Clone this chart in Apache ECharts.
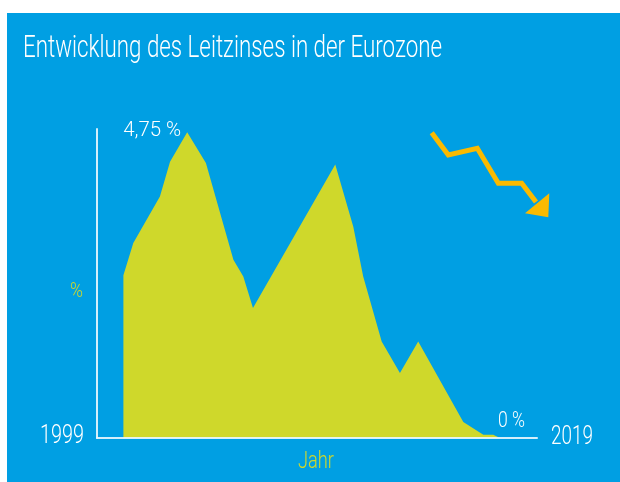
<!DOCTYPE html>
<html>
<head>
<meta charset="utf-8">
<script src="https://cdn.jsdelivr.net/npm/echarts@6/dist/echarts.min.js"></script>
<style>
html,body{margin:0;padding:0;background:#fff;}
#c{width:620px;height:482px;}
</style>
</head>
<body>
<div id="c"></div>
<script>
const titleText = 'Entwicklung des Leitzinses in der Eurozone';
const years = [2000.2, 2000.65, 2001.86, 2002.32, 2003.1, 2003.95, 2005.2, 2005.65, 2006.09, 2009.83, 2010.65, 2011.1, 2011.94, 2012.77, 2013.6, 2015.65, 2016.56, 2017.01, 2017.32];
const rates = [2.53, 3.03, 3.75, 4.29, 4.75, 4.27, 2.77, 2.51, 2.02, 4.25, 3.28, 2.51, 1.5, 1.01, 1.5, 0.25, 0.05, 0.05, 0];
const endLabels = ['1999', '2019'];
const xRange = [1999, 2019];
const peakLabel = '4,75 %';
const zeroLabel = '0 %';
const yName = '%';
const xName = 'Jahr';

const FONT_NAME = 'Roboto';
const WEIGHT = '300';
const BLUE = '#009FE3';
const GREEN = '#CFD82B';
const ORANGE = '#FBBA00';
const AXIS = 'rgba(235,247,253,0.9)';

const ctx = document.createElement('canvas').getContext('2d');
function fontStr(size) { return WEIGHT + ' ' + size + 'px ' + FONT_NAME; }
function measure(text, size) {
  ctx.font = fontStr(size);
  return ctx.measureText(text).width;
}
// text with given left (or right) edge, cap top, font size, target width
function ntext(text, x, capTop, size, targetW, color, align) {
  const w = measure(text, size);
  const s = targetW / w;
  const top = capTop - size * 0.27 + 4;
  return {
    type: 'text', z: 20,
    x: align === 'right' ? x - targetW : x,
    y: top,
    scaleX: s,
    style: { x: 0, y: 0, text: text, fill: color, font: fontStr(size), verticalAlign: 'top', align: 'left' }
  };
}

const data = years.map((x, i) => [x, rates[i]]);

const chart = echarts.init(document.getElementById('c'), null, { renderer: 'canvas' });
chart.setOption({
  backgroundColor: '#fff',
  animation: false,
  grid: { left: 97, right: 83, top: 129, bottom: 44 },
  xAxis: {
    type: 'value', min: xRange[0], max: xRange[1], z: 5,
    axisLine: { show: true, lineStyle: { color: AXIS, width: 2 } },
    axisTick: { show: false }, axisLabel: { show: false }, splitLine: { show: false }
  },
  yAxis: {
    type: 'value', min: 0, max: 4.8, z: 5,
    axisLine: { show: true, lineStyle: { color: AXIS, width: 2 } },
    axisTick: { show: false }, axisLabel: { show: false }, splitLine: { show: false }
  },
  series: [{
    type: 'line',
    data: data,
    showSymbol: false,
    symbol: 'none',
    lineStyle: { width: 0 },
    areaStyle: { color: GREEN, opacity: 1 },
    z: 2
  }]
});

const peakIdx = rates.indexOf(Math.max(...rates));
const lastIdx = rates.length - 1;
const pPeak = chart.convertToPixel({ gridIndex: 0 }, data[peakIdx]);
const pLast = chart.convertToPixel({ gridIndex: 0 }, data[lastIdx]);
const pStart = chart.convertToPixel({ gridIndex: 0 }, [xRange[0], 0]);
const pEnd = chart.convertToPixel({ gridIndex: 0 }, [xRange[1], 0]);
const pMidY = chart.convertToPixel({ gridIndex: 0 }, [xRange[0], 2.3]);
const xMid = (pStart[0] + pEnd[0]) / 2;

chart.setOption({
  graphic: [
    { type: 'rect', z: -10, shape: { x: 7, y: 13, width: 613, height: 469 }, style: { fill: BLUE } },
    ntext(titleText, 23, 38, 32, 419, '#fff'),
    ntext(endLabels[0], pStart[0] - 13, pStart[1] - 11, 25, 44, '#fff', 'right'),
    ntext(endLabels[1], pEnd[0] + 14, pEnd[1] - 10, 25, 42, '#fff'),
    ntext(xName, xMid - 19, pStart[1] + 14, 24, 36, GREEN),
    ntext(yName, pMidY[0] - 27, pMidY[1] - 7, 21, 13, GREEN),
    ntext(peakLabel, pPeak[0] - 6, pPeak[1] - 10, 21, 58, '#fff', 'right'),
    ntext(zeroLabel, pLast[0] - 2, pLast[1] - 26, 22, 27, '#fff'),
    { type: 'polyline', z: 10, shape: { points: [[431.7,132.7],[448.3,155],[477.3,148.3],[498.3,183.3],[521.7,183.3],[536,202]] }, style: { stroke: ORANGE, lineWidth: 5, fill: null, lineJoin: 'miter' } },
    { type: 'polygon', z: 10, shape: { points: [[525,213.3],[549.3,193.3],[548.3,217.3]] }, style: { fill: ORANGE } }
  ]
});
</script>
</body>
</html>
